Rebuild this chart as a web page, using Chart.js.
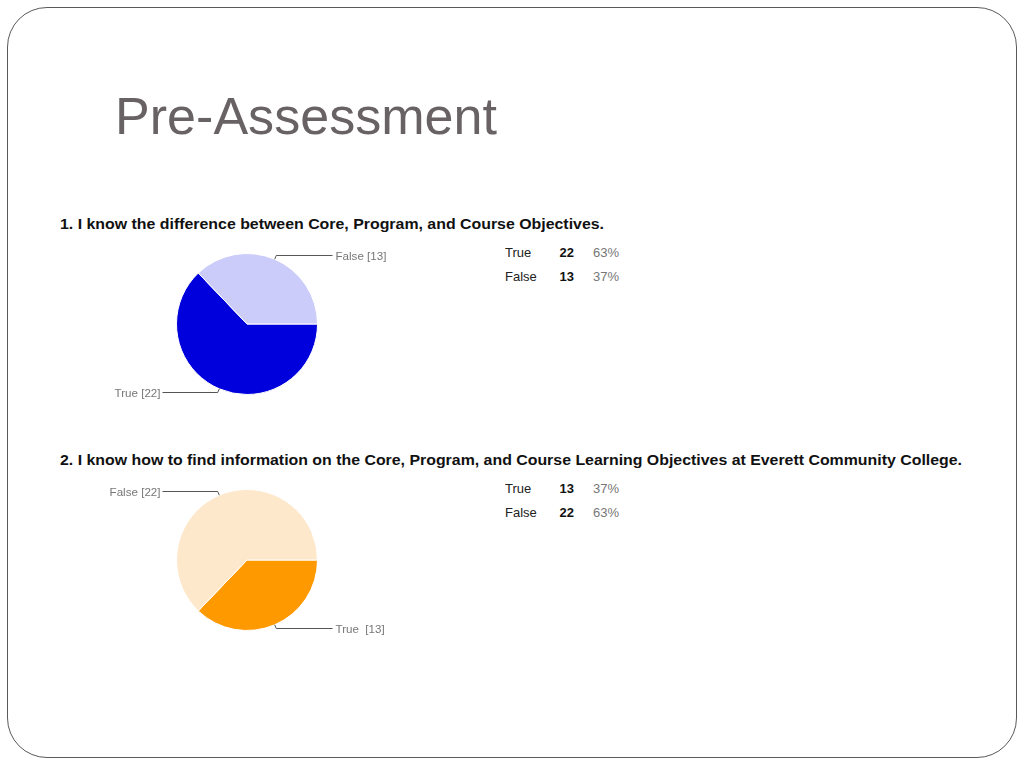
<!DOCTYPE html>
<html>
<head>
<meta charset="utf-8">
<script src="https://cdn.jsdelivr.net/npm/chart.js@4.4.1/dist/chart.umd.min.js"></script>
<style>
  body { margin: 0; background: #fff; }
  #slide { position: relative; width: 1024px; height: 768px; overflow: hidden; font-family: "Liberation Sans", Arial, sans-serif; }
  #moldura { position: absolute; left: 7px; top: 7px; width: 1008px; height: 749px; border: 1.3px solid #5a5a5a; border-radius: 40px; }
  #titulo { position: absolute; left: 115px; top: 86px; font-size: 52px; color: #686264; white-space: nowrap; transform-origin: 0 0; }
  .pergunta { position: absolute; left: 60px; font-size: 15px; font-weight: bold; color: #111; white-space: nowrap; transform-origin: 0 0; }
  .tabela { position: absolute; left: 505px; font-size: 13px; border-collapse: collapse; }
  .tabela td { padding: 0; height: 24px; }
  .tabela td.cat { width: 53px; color: #222; }
  .tabela td.num { width: 16px; text-align: right; font-weight: bold; color: #111; }
  .tabela td.pct { padding-left: 19px; color: #777; }
  canvas { position: absolute; }
</style>
</head>
<body>
<div id="slide">
  <div id="moldura"></div>
  <div id="titulo">Pre-Assessment</div>
  <div class="pergunta" id="p1" style="top:215px"></div>
  <div class="pergunta" id="p2" style="top:451px"></div>
  <table class="tabela" id="t1" style="top:240px"></table>
  <table class="tabela" id="t2" style="top:476px"></table>
  <canvas id="pizza1" width="300" height="170" style="left:100px; top:240px"></canvas>
  <canvas id="pizza2" width="300" height="170" style="left:100px; top:476px"></canvas>
</div>
<script>
const categorias = ['True', 'False'];
const respostas1 = [22, 13];
const respostas2 = [13, 22];
const rotulos1 = ['True [22]', 'False [13]'];
const rotulos2 = ['True  [13]', 'False [22]'];
const perguntas = [
    '1. I know the difference between Core, Program, and Course Objectives.',
    '2. I know how to find information on the Core, Program, and Course Learning Objectives at Everett Community College.'
];
const larguras = [544, 902]; // largura do texto da pergunta no original
const cores1 = ['#0000dc', '#ccccfb'];
const cores2 = ['#ff9900', '#fee8cc'];

// rótulos com linha de chamada, estilo Google Forms
const rotulosPlugin = {
    id: 'rotulos',
    afterDatasetsDraw(chart, args, opts) {
        const ctx = chart.ctx;
        const meta = chart.getDatasetMeta(0);
        ctx.save();
        ctx.font = '11.6px "Liberation Sans", Arial, sans-serif';
        ctx.fillStyle = '#777';
        ctx.strokeStyle = '#555';
        ctx.lineWidth = 1;
        ctx.textBaseline = 'middle';
        meta.data.forEach((arco, i) => {
            const p = arco.getProps(['x', 'y', 'startAngle', 'endAngle', 'outerRadius'], true);
            const meio = (p.startAngle + p.endAngle) / 2;
            const x0 = p.x + Math.cos(meio) * p.outerRadius;
            const y0 = p.y + Math.sin(meio) * p.outerRadius;
            const x1 = p.x + Math.cos(meio) * (p.outerRadius + 4);
            const y1 = p.y + Math.sin(meio) * (p.outerRadius + 4);
            const direita = Math.cos(meio) >= 0;
            const x2 = direita ? p.x + p.outerRadius + 15 : p.x - p.outerRadius - 14;
            ctx.beginPath();
            ctx.moveTo(x0, y0);
            ctx.lineTo(x1, y1);
            ctx.lineTo(x2, y1);
            ctx.stroke();
            ctx.textAlign = direita ? 'left' : 'right';
            ctx.fillText(opts.textos[i], direita ? x2 + 3 : x2 - 2, y1 + 1);
        });
        ctx.restore();
    }
};

function criarPizza(id, valores, cores, textos) {
    return new Chart(document.getElementById(id), {
        type: 'pie',
        data: {
            labels: categorias,
            datasets: [{
                data: valores,
                backgroundColor: cores,
                borderColor: '#fff',
                borderWidth: 1,
                hoverOffset: 0
            }]
        },
        options: {
            responsive: false,
            animation: false,
            rotation: 90, // começa às 3 horas
            layout: { padding: { left: 76, right: 82, top: 13, bottom: 15 } },
            plugins: {
                legend: { display: false },
                tooltip: { enabled: false },
                rotulos: { textos: textos }
            }
        },
        plugins: [rotulosPlugin]
    });
}

function montarTabela(id, valores) {
    const total = valores.reduce((a, b) => a + b, 0);
    const tabela = document.getElementById(id);
    tabela.innerHTML = '';
    categorias.forEach((cat, i) => {
        const tr = document.createElement('tr');
        tr.innerHTML = `<td class="cat">${cat}</td><td class="num">${valores[i]}</td><td class="pct">${Math.round(valores[i] / total * 100)}%</td>`;
        tabela.appendChild(tr);
    });
}

['p1', 'p2'].forEach((id, i) => {
    const el = document.getElementById(id);
    el.textContent = perguntas[i];
    const w = el.getBoundingClientRect().width;
    el.style.transform = `scaleX(${larguras[i] / w})`;
});

// título ocupa de x=115 a x=497 no original
const titulo = document.getElementById('titulo');
titulo.style.transform = `scaleX(${382 / titulo.getBoundingClientRect().width})`;

montarTabela('t1', respostas1);
montarTabela('t2', respostas2);
criarPizza('pizza1', respostas1, cores1, rotulos1);
criarPizza('pizza2', respostas2, cores2, rotulos2);
</script>
</body>
</html>
